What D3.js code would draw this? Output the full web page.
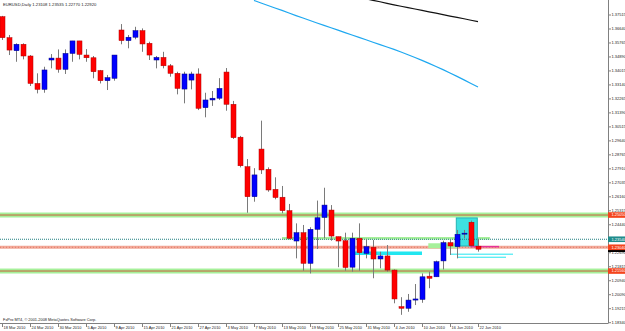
<!DOCTYPE html>
<html>
<head>
<meta charset="utf-8">
<script src="https://cdn.jsdelivr.net/npm/d3@7"></script>
<style>
  body { margin: 0; background: #fff; }
</style>
</head>
<body>
<div id="chart"></div>
<script>
// EURUSD daily bars, 18 Mar 2010 .. 22 Jun 2010 (index 0 .. 68)
var opens = [1.3741, 1.3610, 1.3529, 1.3569, 1.3496, 1.3325, 1.3288, 1.3471, 1.3483, 1.3413,
  1.3512, 1.3590, 1.3502, 1.3485, 1.3405, 1.3342, 1.3357, 1.3658, 1.3592, 1.3613,
  1.3654, 1.3575, 1.3471, 1.3487, 1.3435, 1.3388, 1.3290, 1.3346, 1.3384, 1.3174,
  1.3222, 1.3233, 1.3396, 1.3195, 1.2990, 1.2806, 1.2619, 1.2916, 1.2790, 1.2665,
  1.2616, 1.2532, 1.2343, 1.2395, 1.2204, 1.2416, 1.2490, 1.2536, 1.2370, 1.2345,
  1.2180, 1.2360, 1.2266, 1.2304, 1.2231, 1.2250, 1.2162, 1.1934, 1.1924, 1.1975,
  1.1979, 1.2124, 1.2120, 1.2219, 1.2333, 1.2308, 1.2391, 1.2460, 1.23108];
var highs = [1.3746, 1.3627, 1.3575, 1.3575, 1.3502, 1.3388, 1.3429, 1.3508, 1.3537, 1.3537,
  1.3590, 1.3590, 1.3539, 1.3496, 1.3409, 1.3378, 1.3502, 1.3695, 1.3627, 1.3678,
  1.3668, 1.3585, 1.3496, 1.3522, 1.3446, 1.3398, 1.3398, 1.3398, 1.3419, 1.3267,
  1.3278, 1.3358, 1.3421, 1.3216, 1.2998, 1.2854, 1.2797, 1.3093, 1.2802, 1.2740,
  1.2686, 1.2574, 1.2453, 1.2443, 1.2429, 1.2595, 1.2675, 1.2567, 1.2370, 1.2395,
  1.2395, 1.2453, 1.2354, 1.2349, 1.2276, 1.2318, 1.2166, 1.1993, 1.2013, 1.2075,
  1.2141, 1.2152, 1.2221, 1.2345, 1.2349, 1.2412, 1.2412, 1.2470, 1.23535];
var lows = [1.3596, 1.3502, 1.3460, 1.3475, 1.3309, 1.3263, 1.3267, 1.3419, 1.3392, 1.3384,
  1.3460, 1.3475, 1.3460, 1.3357, 1.3325, 1.3284, 1.3342, 1.3569, 1.3544, 1.3600,
  1.3522, 1.3471, 1.3419, 1.3419, 1.3367, 1.3257, 1.3201, 1.3288, 1.3159, 1.3114,
  1.3185, 1.3222, 1.3155, 1.2979, 1.2802, 1.2519, 1.2588, 1.2761, 1.2650, 1.2603,
  1.2516, 1.2354, 1.2235, 1.2158, 1.2141, 1.2293, 1.2360, 1.2345, 1.2180, 1.2158,
  1.2152, 1.2158, 1.2235, 1.2111, 1.2173, 1.2152, 1.1955, 1.1883, 1.1902, 1.1944,
  1.1958, 1.2049, 1.2120, 1.2166, 1.2256, 1.2235, 1.2360, 1.2308, 1.22770];
var closes = [1.3610, 1.3533, 1.3569, 1.3496, 1.3325, 1.3288, 1.3409, 1.3483, 1.3413, 1.3512,
  1.3590, 1.3506, 1.3485, 1.3398, 1.3342, 1.3361, 1.3502, 1.3592, 1.3613, 1.3654,
  1.3571, 1.3502, 1.3487, 1.3435, 1.3388, 1.3294, 1.3384, 1.3384, 1.3170, 1.3222,
  1.3233, 1.3294, 1.3195, 1.2987, 1.2812, 1.2619, 1.2755, 1.2786, 1.2661, 1.2614,
  1.2532, 1.2360, 1.2395, 1.2204, 1.2416, 1.2488, 1.2567, 1.2374, 1.2343, 1.2178,
  1.2360, 1.2270, 1.2308, 1.2231, 1.2250, 1.2162, 1.1982, 1.1924, 1.1975, 1.1982,
  1.2120, 1.2111, 1.2214, 1.2333, 1.2312, 1.2385, 1.2392, 1.2314, 1.22920];

// moving averages (only the visible part), first bar index given separately
var maBlueStart = 36;
var maBlue = [1.3842, 1.3826, 1.3811, 1.3795, 1.3780, 1.3764, 1.3748, 1.3733, 1.3717, 1.3702,
  1.3687, 1.3672, 1.3657, 1.3642, 1.3627, 1.3612, 1.3597, 1.3582, 1.3567, 1.3552,
  1.3537, 1.3521, 1.3504, 1.3487, 1.3469, 1.3450, 1.3431, 1.3411, 1.3390, 1.3369,
  1.3347, 1.3325, 1.3303];
var maBlackStart = 52;
var maBlack = [1.3852, 1.3843, 1.3834, 1.3824, 1.3815, 1.3806, 1.3798, 1.3789, 1.3780, 1.3771,
  1.3763, 1.3754, 1.3745, 1.3737, 1.3728, 1.3719, 1.3710];

var dateLabels = ["18 Mar 2010", "24 Mar 2010", "30 Mar 2010", "5 Apr 2010", "9 Apr 2010",
  "15 Apr 2010", "21 Apr 2010", "27 Apr 2010", "3 May 2010", "7 May 2010", "13 May 2010",
  "19 May 2010", "25 May 2010", "31 May 2010", "4 Jun 2010", "10 Jun 2010", "16 Jun 2010",
  "22 Jun 2010"];
var priceTicks = ["1.37515", "1.36640", "1.35765", "1.34890", "1.34015", "1.33140", "1.32265",
  "1.31390", "1.30515", "1.29640", "1.28765", "1.27910", "1.27035", "1.26160", "1.25315",
  "1.24440", "1.23565", "1.22690", "1.21815", "1.20940", "1.20090", "1.19215", "1.18340"];

// drawn objects
var greenLevels = [1.2505, 1.2156];
var tealLevel = 1.2354;
var salmonLevel = 1.2304;
var bidPrice = 1.2292;
var rightLabels = [
  {price: 1.2505, text: "1.25050", color: "#f4441c"},
  {price: 1.2354, text: "1.23540", color: "#1f8c8c"},
  {price: 1.2304, text: "1.23040", color: "#f4441c"},
  {price: 1.2156, text: "1.21560", color: "#f4441c"}
];
// segments: [fromBar, toBar, price]
var greenSegs = [[40, 69.7, 1.2360]];
var cyanBands = [[50.4, 60, 1.2267]];
var cyanThin = [[64, 73, 1.2261], [65, 72, 1.2242]];
var magentaSegs = [[66.9, 71, 1.2308]];
// boxes: [fromBar, toBar, priceTop, priceBottom]
var greenBoxes = [[60.9, 65, 1.2329, 1.2298]];
var cyanBoxes = [[64.9, 67.9, 1.2487, 1.2312]];

var W = 625, H = 331;
var plotRight = 608, plotBottom = 323;

var svg = d3.select("#chart").append("svg")
  .attr("width", W).attr("height", H)
  .style("font-family", "'Liberation Sans', Arial, sans-serif");

var x = d3.scaleLinear().domain([0, 68]).range([2, 478]);
var y = d3.scaleLinear().domain([1.18340, 1.37515]).range([322.7, 15]);

svg.append("defs").append("clipPath").attr("id", "clip")
  .append("rect").attr("x", 0).attr("y", 0).attr("width", plotRight).attr("height", plotBottom);

var plot = svg.append("g").attr("clip-path", "url(#clip)");

// background objects
greenLevels.forEach(function(p) {
  plot.append("rect").attr("x", 0).attr("width", plotRight)
    .attr("y", y(p) - 2.5).attr("height", 5).attr("fill", "#a6f09a");
  plot.append("line").attr("x1", 0).attr("x2", plotRight)
    .attr("y1", y(p)).attr("y2", y(p)).attr("stroke", "#c8603c").attr("stroke-width", 1);
});

plot.append("line").attr("x1", 0).attr("x2", plotRight)
  .attr("y1", y(salmonLevel)).attr("y2", y(salmonLevel))
  .attr("stroke", "#f2a898").attr("stroke-width", 3);
plot.append("line").attr("x1", 0).attr("x2", plotRight)
  .attr("y1", y(salmonLevel)).attr("y2", y(salmonLevel))
  .attr("stroke", "#e07a68").attr("stroke-width", 1).attr("stroke-dasharray", "1,2");

greenSegs.forEach(function(s) {
  plot.append("line").attr("x1", x(s[0])).attr("x2", x(s[1]))
    .attr("y1", y(s[2])).attr("y2", y(s[2]))
    .attr("stroke", "#a6f09a").attr("stroke-width", 2.5);
});
greenBoxes.forEach(function(b) {
  plot.append("rect").attr("x", x(b[0])).attr("width", x(b[1]) - x(b[0]))
    .attr("y", y(b[2])).attr("height", y(b[3]) - y(b[2])).attr("fill", "#a6f09a");
});
cyanBoxes.forEach(function(b) {
  plot.append("rect").attr("x", x(b[0])).attr("width", x(b[1]) - x(b[0]))
    .attr("y", y(b[2])).attr("height", y(b[3]) - y(b[2]))
    .attr("fill", "#3ee0e0").attr("stroke", "#22b4b4").attr("stroke-width", 1);
});
cyanBands.forEach(function(s) {
  plot.append("line").attr("x1", x(s[0])).attr("x2", x(s[1]))
    .attr("y1", y(s[2])).attr("y2", y(s[2]))
    .attr("stroke", "#22e6f0").attr("stroke-width", 3.5);
});
cyanThin.forEach(function(s) {
  plot.append("line").attr("x1", x(s[0])).attr("x2", x(s[1]))
    .attr("y1", y(s[2])).attr("y2", y(s[2]))
    .attr("stroke", "#22e6f0").attr("stroke-width", 1);
});
magentaSegs.forEach(function(s) {
  plot.append("line").attr("x1", x(s[0])).attr("x2", x(s[1]))
    .attr("y1", y(s[2])).attr("y2", y(s[2]))
    .attr("stroke", "#e6329b").attr("stroke-width", 1.5);
});

plot.append("line").attr("x1", 0).attr("x2", plotRight)
  .attr("y1", y(tealLevel)).attr("y2", y(tealLevel))
  .attr("stroke", "#1f7f80").attr("stroke-width", 1).attr("stroke-dasharray", "1,1");

// moving averages
var maLine = d3.line().x(function(d) { return x(d.i); }).y(function(d) { return y(d.v); });
plot.append("path")
  .datum(maBlue.map(function(v, k) { return {i: maBlueStart + k, v: v}; }))
  .attr("d", maLine).attr("fill", "none").attr("stroke", "#1ea8f0").attr("stroke-width", 1.2);
plot.append("path")
  .datum(maBlack.map(function(v, k) { return {i: maBlackStart + k, v: v}; }))
  .attr("d", maLine).attr("fill", "none").attr("stroke", "#111").attr("stroke-width", 1.2);

// candles
var bars = d3.range(opens.length).map(function(i) {
  return {i: i, o: opens[i], h: highs[i], l: lows[i], c: closes[i]};
});
var candle = plot.selectAll(".candle").data(bars).enter().append("g").attr("class", "candle");
candle.append("line")
  .attr("x1", function(d) { return Math.round(x(d.i)) + 0.5; })
  .attr("x2", function(d) { return Math.round(x(d.i)) + 0.5; })
  .attr("y1", function(d) { return y(d.h); })
  .attr("y2", function(d) { return y(d.l); })
  .attr("stroke", "#7a7a7a").attr("stroke-width", 1);
candle.append("rect")
  .attr("x", function(d) { return Math.round(x(d.i)) - 2; })
  .attr("width", 5)
  .attr("y", function(d) { return y(Math.max(d.o, d.c)); })
  .attr("height", function(d) { return Math.max(1, Math.abs(y(d.o) - y(d.c))); })
  .attr("fill", function(d) { return d.c >= d.o ? "#0000ff" : "#ff0000"; })
  .attr("stroke", function(d) { return d.c >= d.o ? "#000080" : "#b00000"; })
  .attr("stroke-width", 0.5);

// axes frame
svg.append("line").attr("x1", plotRight + 0.5).attr("x2", plotRight + 0.5)
  .attr("y1", 0).attr("y2", plotBottom).attr("stroke", "#808080");
svg.append("line").attr("x1", 0).attr("x2", plotRight + 0.5)
  .attr("y1", plotBottom + 0.5).attr("y2", plotBottom + 0.5).attr("stroke", "#808080");

// price scale
var tickStep = (1.37515 - 1.18340) / (priceTicks.length - 1);
priceTicks.forEach(function(t, k) {
  var ty = y(1.37515 - k * tickStep);
  svg.append("line").attr("x1", plotRight).attr("x2", plotRight + 3)
    .attr("y1", ty).attr("y2", ty).attr("stroke", "#808080");
  svg.append("text").attr("x", plotRight + 3.5).attr("y", ty + 1.4)
    .attr("font-size", 4).attr("fill", "#222").text(t);
});

// bid line marker and object labels
svg.append("rect").attr("x", plotRight).attr("y", y(bidPrice) - 2.8)
  .attr("width", W - plotRight).attr("height", 5.6).attr("fill", "#000");
rightLabels.forEach(function(r) {
  svg.append("rect").attr("x", plotRight).attr("y", y(r.price) - 2.8)
    .attr("width", W - plotRight).attr("height", 5.6).attr("fill", r.color);
  svg.append("text").attr("x", plotRight + 3.5).attr("y", y(r.price) + 1.4)
    .attr("font-size", 4).attr("fill", "#fff").text(r.text);
});

// time scale
dateLabels.forEach(function(t, k) {
  var tx = Math.round(x(k * 4)) + 0.5;
  svg.append("line").attr("x1", tx).attr("x2", tx)
    .attr("y1", plotBottom).attr("y2", plotBottom + 4).attr("stroke", "#808080");
  svg.append("text").attr("x", tx + 1).attr("y", plotBottom + 5.5)
    .attr("font-size", 3.9).attr("fill", "#222").text(t);
});

// header and copyright
svg.append("text").attr("x", 3).attr("y", 6.3).attr("font-size", 4.2).attr("fill", "#222")
  .text("EURUSD,Daily  1.23108 1.23535 1.22770 1.22920");
svg.append("text").attr("x", 3).attr("y", 320.5).attr("font-size", 3.9).attr("fill", "#222")
  .text("FxPro MT4, \u00a9 2001-2008 MetaQuotes Software Corp.");
</script>
</body>
</html>
